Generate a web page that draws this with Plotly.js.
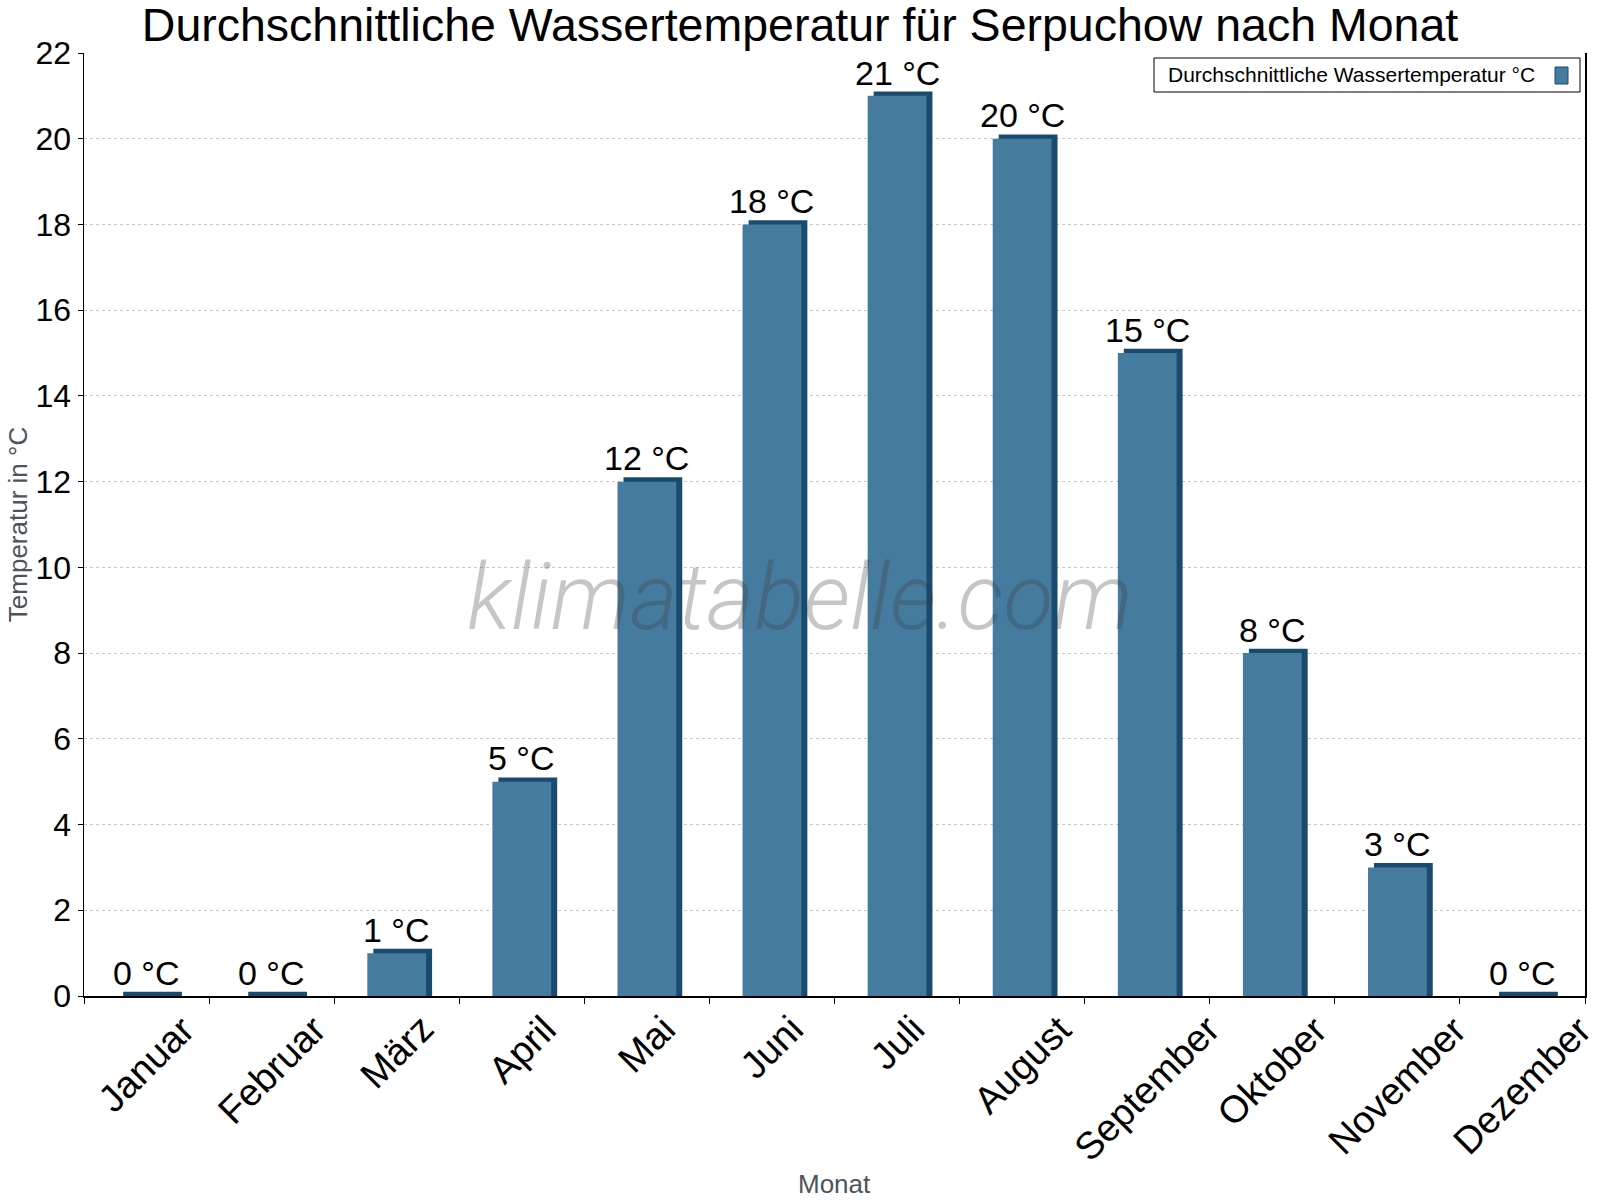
<!DOCTYPE html>
<html>
<head>
<meta charset="utf-8">
<script src="https://cdn.plot.ly/plotly-3.0.1.min.js"></script>
<style>html,body{margin:0;padding:0;background:#fff;}#chart{width:1600px;height:1200px;}</style>
</head>
<body>
<div id="chart"></div>
<script>
// ---- data ----
const months = ["Januar","Februar","März","April","Mai","Juni","Juli","August","September","Oktober","November","Dezember"];
const waterTemp = [0, 0, 1, 5, 12, 18, 21, 20, 15, 8, 3, 0];
const seriesName = "Durchschnittliche Wassertemperatur °C";
const unit = " °C";

// ---- style ----
const FRONT = "#467ba0";
const DARK = "#1a4b6e";
const FONT = "Liberation Sans, Arial, sans-serif";
const depth = 0.1;        // 3D top depth in data units
const barW = 0.47;
const sideShift = 0.048;

const backY = waterTemp.map(v => v + depth);

const back = {
  type: "bar", x: months, y: backY, base: 0,
  width: barW, offset: -barW / 2 + sideShift,
  marker: {color: DARK, line: {width: 0}},
  showlegend: false, hoverinfo: "skip"
};
const front = {
  type: "bar", x: months, y: waterTemp, name: seriesName,
  width: barW, offset: -barW / 2,
  marker: {color: FRONT, line: {width: 0}},
  showlegend: false, hoverinfo: "skip"
};

// pixel helpers for placement (plot area 84..1585, 53..996)
const px = p => (p - 84) / 1501;
const py = p => (996 - p) / 943;

const valueLabels = months.map((m, i) => ({
  x: m, y: waterTemp[i] + depth, xref: "x", yref: "y",
  text: waterTemp[i] + unit, showarrow: false,
  yanchor: "bottom", yshift: -2, xshift: 0,
  font: {family: FONT, size: 34, color: "#000"}
}));

// rotated category labels, centred under each category
const monthLabels = months.map(m => ({
  x: m, y: py(1005), xref: "x", yref: "paper",
  text: m, showarrow: false, textangle: -45,
  xanchor: "center", yanchor: "top",
  font: {family: FONT, size: 38, color: "#000"}
}));

const annotations = valueLabels.concat(monthLabels, [
  {
    x: px(1166), y: py(75), xref: "paper", yref: "paper",
    xanchor: "left", yanchor: "middle", showarrow: false,
    text: seriesName, font: {family: FONT, size: 21, color: "#000"}
  },
  {
    x: px(800), y: py(597), xref: "paper", yref: "paper",
    xanchor: "center", yanchor: "middle", showarrow: false,
    text: "klimatabelle.com",
    font: {family: "Roboto", size: 92, color: "rgba(60,60,60,0.29)", style: "italic", weight: 300}
  },
  {
    x: 0.5, y: py(1184), xref: "paper", yref: "paper",
    xanchor: "center", yanchor: "middle", showarrow: false,
    text: "Monat", font: {family: FONT, size: 26, color: "#4d545c"}
  }
]);

const shapes = [
  {type: "rect", xref: "paper", yref: "paper", x0: px(1154), x1: px(1580), y0: py(92), y1: py(58),
   line: {color: "#000", width: 1}, fillcolor: "#fff", layer: "above"},
  {type: "rect", xref: "paper", yref: "paper", x0: px(1555), x1: px(1568), y0: py(84), y1: py(67),
   line: {color: DARK, width: 1}, fillcolor: FRONT, layer: "above"}
];

const layout = {
  width: 1600, height: 1200,
  margin: {l: 84, r: 15, t: 53, b: 204, pad: 0},
  paper_bgcolor: "#fff", plot_bgcolor: "#fff",
  barmode: "overlay",
  hovermode: false,
  showlegend: false,
  title: {
    text: "Durchschnittliche Wassertemperatur für Serpuchow nach Monat",
    font: {family: FONT, size: 46.5, color: "#000"},
    x: 0.5, xref: "container", xanchor: "center",
    y: 1 - 25 / 1200, yref: "container", yanchor: "middle"
  },
  xaxis: {
    type: "category", range: [-0.5, 11.5],
    showline: true, linecolor: "#000", linewidth: 1.5,
    ticks: "outside", ticklen: 6, tickcolor: "#000", tickwidth: 1,
    tickson: "boundaries",
    showticklabels: false,
    showgrid: false, zeroline: false
  },
  yaxis: {
    range: [0, 22], dtick: 2, tick0: 0,
    showline: true, linecolor: "#000", linewidth: 1.5, mirror: true,
    ticks: "outside", ticklen: 5, tickcolor: "#000",
    tickfont: {family: FONT, size: 32, color: "#000"},
    showgrid: true, gridcolor: "#c8c8c8", griddash: "dot", gridwidth: 1,
    zeroline: false,
    title: {text: "Temperatur in °C", font: {family: FONT, size: 26, color: "#4d545c"}, standoff: 0}
  },
  annotations: annotations,
  shapes: shapes
};

Plotly.newPlot("chart", [back, front], layout, {displayModeBar: false, staticPlot: true});
</script>
</body>
</html>
